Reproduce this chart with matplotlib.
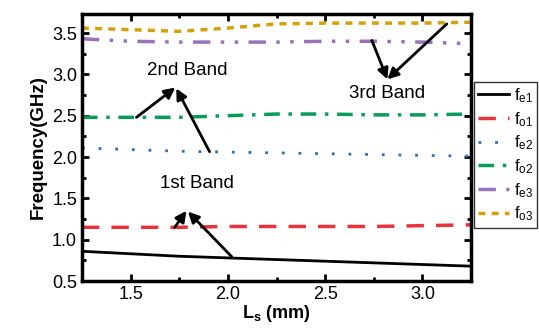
import numpy as np
import matplotlib.pyplot as plt
from matplotlib.ticker import MultipleLocator

plt.rcParams['font.family'] = ['Liberation Sans', 'DejaVu Sans']
plt.rcParams['mathtext.fontset'] = 'custom'
plt.rcParams['mathtext.rm'] = 'Liberation Sans'
plt.rcParams['mathtext.it'] = 'Liberation Sans'
plt.rcParams['mathtext.bf'] = 'Liberation Sans:bold'

# Ls (mm) and resonant frequencies (GHz)
ls = [1.25, 1.5, 1.75, 2.0, 2.25, 2.5, 2.75, 3.0, 3.25]
f_e1 = [0.86, 0.83, 0.80, 0.78, 0.76, 0.74, 0.72, 0.70, 0.68]
f_o1 = [1.15, 1.15, 1.15, 1.16, 1.16, 1.16, 1.16, 1.17, 1.18]
f_e2 = [2.11, 2.09, 2.07, 2.06, 2.05, 2.04, 2.03, 2.02, 2.01]
f_o2 = [2.48, 2.48, 2.48, 2.50, 2.52, 2.52, 2.51, 2.51, 2.52]
f_e3 = [3.43, 3.40, 3.39, 3.39, 3.39, 3.40, 3.40, 3.39, 3.37]
f_o3 = [3.56, 3.54, 3.52, 3.56, 3.61, 3.62, 3.62, 3.62, 3.63]

fig = plt.figure(figsize=(5.39, 3.33), dpi=100)
ax = fig.add_axes([0.152, 0.156, 0.722, 0.802])

ax.plot(ls, f_e1, color='black', lw=2, ls='-', label='f$_{e1}$')
ax.plot(ls, f_o1, color='#e8333b', lw=2.5, ls=(0, (5, 3.5)), label='f$_{o1}$')
ax.plot(ls, f_e2, color='#2f6cb8', lw=2, ls=(0, (1, 5)), label='f$_{e2}$')
ax.plot(ls, f_o2, color='#0a9a5a', lw=2.5, ls=(0, (4.5, 2.5, 1, 2.5)), label='f$_{o2}$')
ax.plot(ls, f_e3, color='#9a72b8', lw=2.5, ls=(0, (5, 3, 1, 3, 1, 3)), label='f$_{e3}$')
ax.plot(ls, f_o3, color='#d4a00a', lw=2.5, ls=(0, (2, 1.8)), label='f$_{o3}$')

ax.set_xlim(1.25, 3.25)
ax.set_ylim(0.5, 3.73)
ax.xaxis.set_major_locator(MultipleLocator(0.5))
ax.xaxis.set_minor_locator(MultipleLocator(0.25))
ax.yaxis.set_major_locator(MultipleLocator(0.5))
ax.yaxis.set_minor_locator(MultipleLocator(0.25))
ax.tick_params(which='both', direction='in', top=True, right=True, width=2, labelsize=13)
ax.tick_params(which='major', length=5)
ax.tick_params(which='minor', length=3)
for s in ax.spines.values():
    s.set_linewidth(2.5)

ax.set_xlabel('L$_\\mathbf{s}$ (mm)', fontsize=13, fontweight='bold', labelpad=0)
ax.set_ylabel('Frequency(GHz)', fontsize=13.5, fontweight='bold', labelpad=4)

arr = dict(arrowstyle='-|>', color='black', lw=2, mutation_scale=16, shrinkA=0, shrinkB=0)
ax.text(1.79, 3.05, '2nd Band', fontsize=13.5, ha='center', va='center')
ax.annotate('', xy=(1.73, 2.84), xytext=(1.53, 2.48), arrowprops=arr)
ax.annotate('', xy=(1.735, 2.83), xytext=(1.906, 2.064), arrowprops=arr)
ax.text(1.84, 1.68, '1st Band', fontsize=13.5, ha='center', va='center')
ax.annotate('', xy=(1.787, 1.35), xytext=(1.727, 1.15), arrowprops=arr)
ax.annotate('', xy=(1.795, 1.34), xytext=(2.02, 0.794), arrowprops=arr)
ax.text(2.82, 2.77, '3rd Band', fontsize=13.5, ha='center', va='center')
ax.annotate('', xy=(2.82, 2.94), xytext=(2.74, 3.41), arrowprops=arr)
ax.annotate('', xy=(2.82, 2.94), xytext=(3.125, 3.61), arrowprops=arr)

leg = fig.legend(loc='upper right', bbox_to_anchor=(537 / 539, 1 - 82 / 333), fontsize=12,
                 frameon=True, fancybox=False, edgecolor='black', handlelength=1.9,
                 handletextpad=0.25, labelspacing=0.3, borderpad=0.25, borderaxespad=0)
leg.get_frame().set_linewidth(1)

fig.savefig('out.png', dpi=100)
